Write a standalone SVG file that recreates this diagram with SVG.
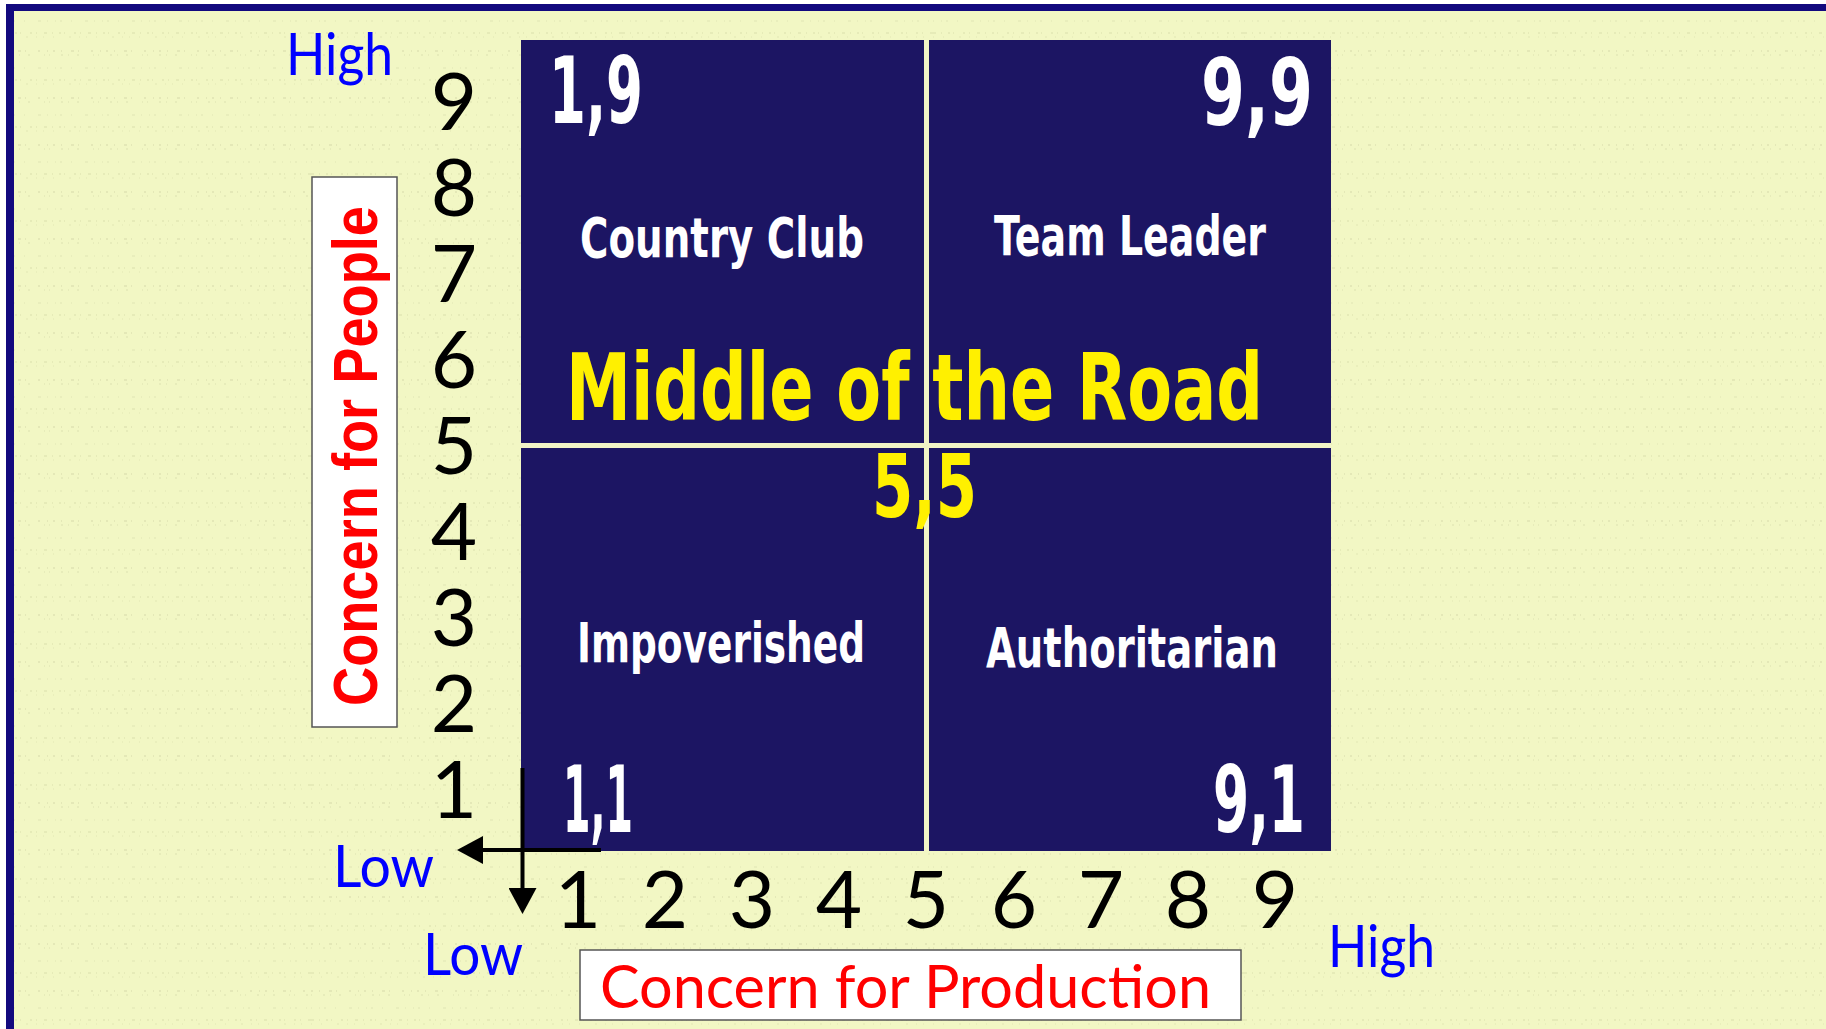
<svg xmlns="http://www.w3.org/2000/svg" width="1826" height="1029" viewBox="0 0 1826 1029">
  <defs>
    <style>
      .quad { fill: #1c1563; }
      .divider { fill: #f2f4c6; }
      .style-name { font-family: "DejaVu Sans", Lato, sans-serif; font-weight: 700; font-size: 55px; fill: #ffffff; text-anchor: middle; }
      .coord { font-family: "DejaVu Sans", Lato, sans-serif; font-weight: 700; font-size: 93px; fill: #ffffff; }
      .mid { font-family: "DejaVu Sans", Lato, sans-serif; font-weight: 700; fill: #fff000; }
      .tick { font-family: Lato, "Open Sans", "DejaVu Sans", sans-serif; font-size: 80px; fill: #000000; text-anchor: middle; }
      .end { font-family: Lato, "Open Sans", "DejaVu Sans", sans-serif; font-size: 58px; fill: #0000ff; }
      .axis-box { fill: #ffffff; stroke: #555555; stroke-width: 1.5; }
      .axis-title { fill: #ff0000; }
      .arrow { stroke: #000000; stroke-width: 4; fill: none; }
      .grain { stroke: #7d7d55; stroke-width: 1.4; fill: none; }
    </style>
    <!-- speckled paper texture -->
    <pattern id="paper" x="0" y="0" width="311" height="47" patternUnits="userSpaceOnUse">
      <path class="grain" d="M0 4H311" stroke-dasharray="2 6 1 9 3 4 1 12 2 7 1 5" opacity="0.16"/>
      <path class="grain" d="M0 8H311" stroke-dasharray="1 11 2 5 1 8 2 14 1 4" opacity="0.12"/>
      <path class="grain" d="M0 21H311" stroke-dasharray="1 7 1 4 2 9 1 13 3 6" opacity="0.10"/>
      <path class="grain" d="M0 33H311" stroke-dasharray="3 5 1 6 2 3 1 9 2 4 1 7" opacity="0.14"/>
      <path class="grain" d="M0 37H311" stroke-dasharray="1 9 1 15 2 8 1 6" opacity="0.09"/>
    </pattern>
    <marker id="head" viewBox="0 0 26 28" refX="0" refY="14" markerWidth="26" markerHeight="28" markerUnits="userSpaceOnUse" orient="auto">
      <path d="M0 0L26 14L0 28Z" fill="#000000"/>
    </marker>
  </defs>

  <!-- page and frame -->
  <rect x="0" y="0" width="1826" height="1029" fill="#ffffff"/>
  <rect x="6" y="4" width="1820" height="1025" fill="#f2f7c4"/>
  <rect x="6" y="4" width="1820" height="1025" fill="url(#paper)"/>
  <rect x="6" y="4" width="1820" height="7" fill="#12097e"/>
  <rect x="6" y="4" width="8" height="1025" fill="#12097e"/>

  <!-- grid background and dividers -->
  <rect class="divider" x="521" y="40" width="810" height="811"/>

  <g id="country-club">
    <rect class="quad" x="521" y="40" width="403" height="403"/>
    <text class="coord" x="549" y="123" textLength="94" lengthAdjust="spacingAndGlyphs">1,9</text>
    <text class="style-name" x="722" y="257" textLength="284" lengthAdjust="spacingAndGlyphs">Country Club</text>
  </g>

  <g id="team-leader">
    <rect class="quad" x="929" y="40" width="402" height="403"/>
    <text class="coord" x="1201" y="125" textLength="112" lengthAdjust="spacingAndGlyphs">9,9</text>
    <text class="style-name" x="1130" y="255" textLength="272" lengthAdjust="spacingAndGlyphs">Team Leader</text>
  </g>

  <g id="impoverished">
    <rect class="quad" x="521" y="448" width="403" height="403"/>
    <text class="coord" x="563" y="832" textLength="70" lengthAdjust="spacingAndGlyphs">1,1</text>
    <text class="style-name" x="721" y="662" textLength="288" lengthAdjust="spacingAndGlyphs">Impoverished</text>
  </g>

  <g id="authoritarian">
    <rect class="quad" x="929" y="448" width="402" height="403"/>
    <text class="coord" x="1213" y="832" textLength="92" lengthAdjust="spacingAndGlyphs">9,1</text>
    <text class="style-name" x="1132" y="667" textLength="292" lengthAdjust="spacingAndGlyphs">Authoritarian</text>
  </g>

  <g id="middle-of-the-road">
    <text class="mid" x="566" y="420" font-size="92" textLength="697" lengthAdjust="spacingAndGlyphs">Middle of the Road</text>
    <text class="mid" x="872" y="517" font-size="88" textLength="105" lengthAdjust="spacingAndGlyphs">5,5</text>
  </g>

  <!-- vertical scale: concern for people -->
  <g id="people-scale">
    <text class="tick" x="454" y="130">9</text>
    <text class="tick" x="454" y="216">8</text>
    <text class="tick" x="454" y="302">7</text>
    <text class="tick" x="454" y="388">6</text>
    <text class="tick" x="454" y="474">5</text>
    <text class="tick" x="454" y="560">4</text>
    <text class="tick" x="454" y="646">3</text>
    <text class="tick" x="454" y="732">2</text>
    <text class="tick" x="454" y="818">1</text>
  </g>

  <!-- horizontal scale: concern for production -->
  <g id="production-scale">
    <text class="tick" x="578" y="928">1</text>
    <text class="tick" x="665" y="928">2</text>
    <text class="tick" x="752" y="928">3</text>
    <text class="tick" x="839" y="928">4</text>
    <text class="tick" x="926" y="928">5</text>
    <text class="tick" x="1014" y="928">6</text>
    <text class="tick" x="1101" y="928">7</text>
    <text class="tick" x="1188" y="928">8</text>
    <text class="tick" x="1275" y="928">9</text>
  </g>

  <g id="people-title">
    <rect class="axis-box" x="312" y="177" width="85" height="550"/>
    <text class="axis-title" transform="translate(377,456) rotate(-90)" x="0" y="0" text-anchor="middle" font-family="'Liberation Sans', Arial, sans-serif" font-weight="700" font-size="63" textLength="500" lengthAdjust="spacingAndGlyphs">Concern for People</text>
  </g>

  <g id="production-title">
    <rect class="axis-box" x="580" y="950" width="661" height="70"/>
    <text class="axis-title" x="600" y="1008" font-family="Lato, 'Open Sans', sans-serif" font-size="60" textLength="611" lengthAdjust="spacingAndGlyphs">Concern for Production</text>
  </g>

  <g id="range-labels">
    <text class="end" x="286" y="75" textLength="107" lengthAdjust="spacingAndGlyphs">High</text>
    <text class="end" x="333" y="887" textLength="101" lengthAdjust="spacingAndGlyphs">Low</text>
    <text class="end" x="423" y="975" textLength="100" lengthAdjust="spacingAndGlyphs">Low</text>
    <text class="end" x="1328" y="967" textLength="107" lengthAdjust="spacingAndGlyphs">High</text>
  </g>

  <!-- origin arrows -->
  <g id="connectors">
    <line class="arrow" x1="522.5" y1="768" x2="522.5" y2="888" marker-end="url(#head)"/>
    <line class="arrow" x1="601" y1="850" x2="483" y2="850" marker-end="url(#head)"/>
  </g>
</svg>
